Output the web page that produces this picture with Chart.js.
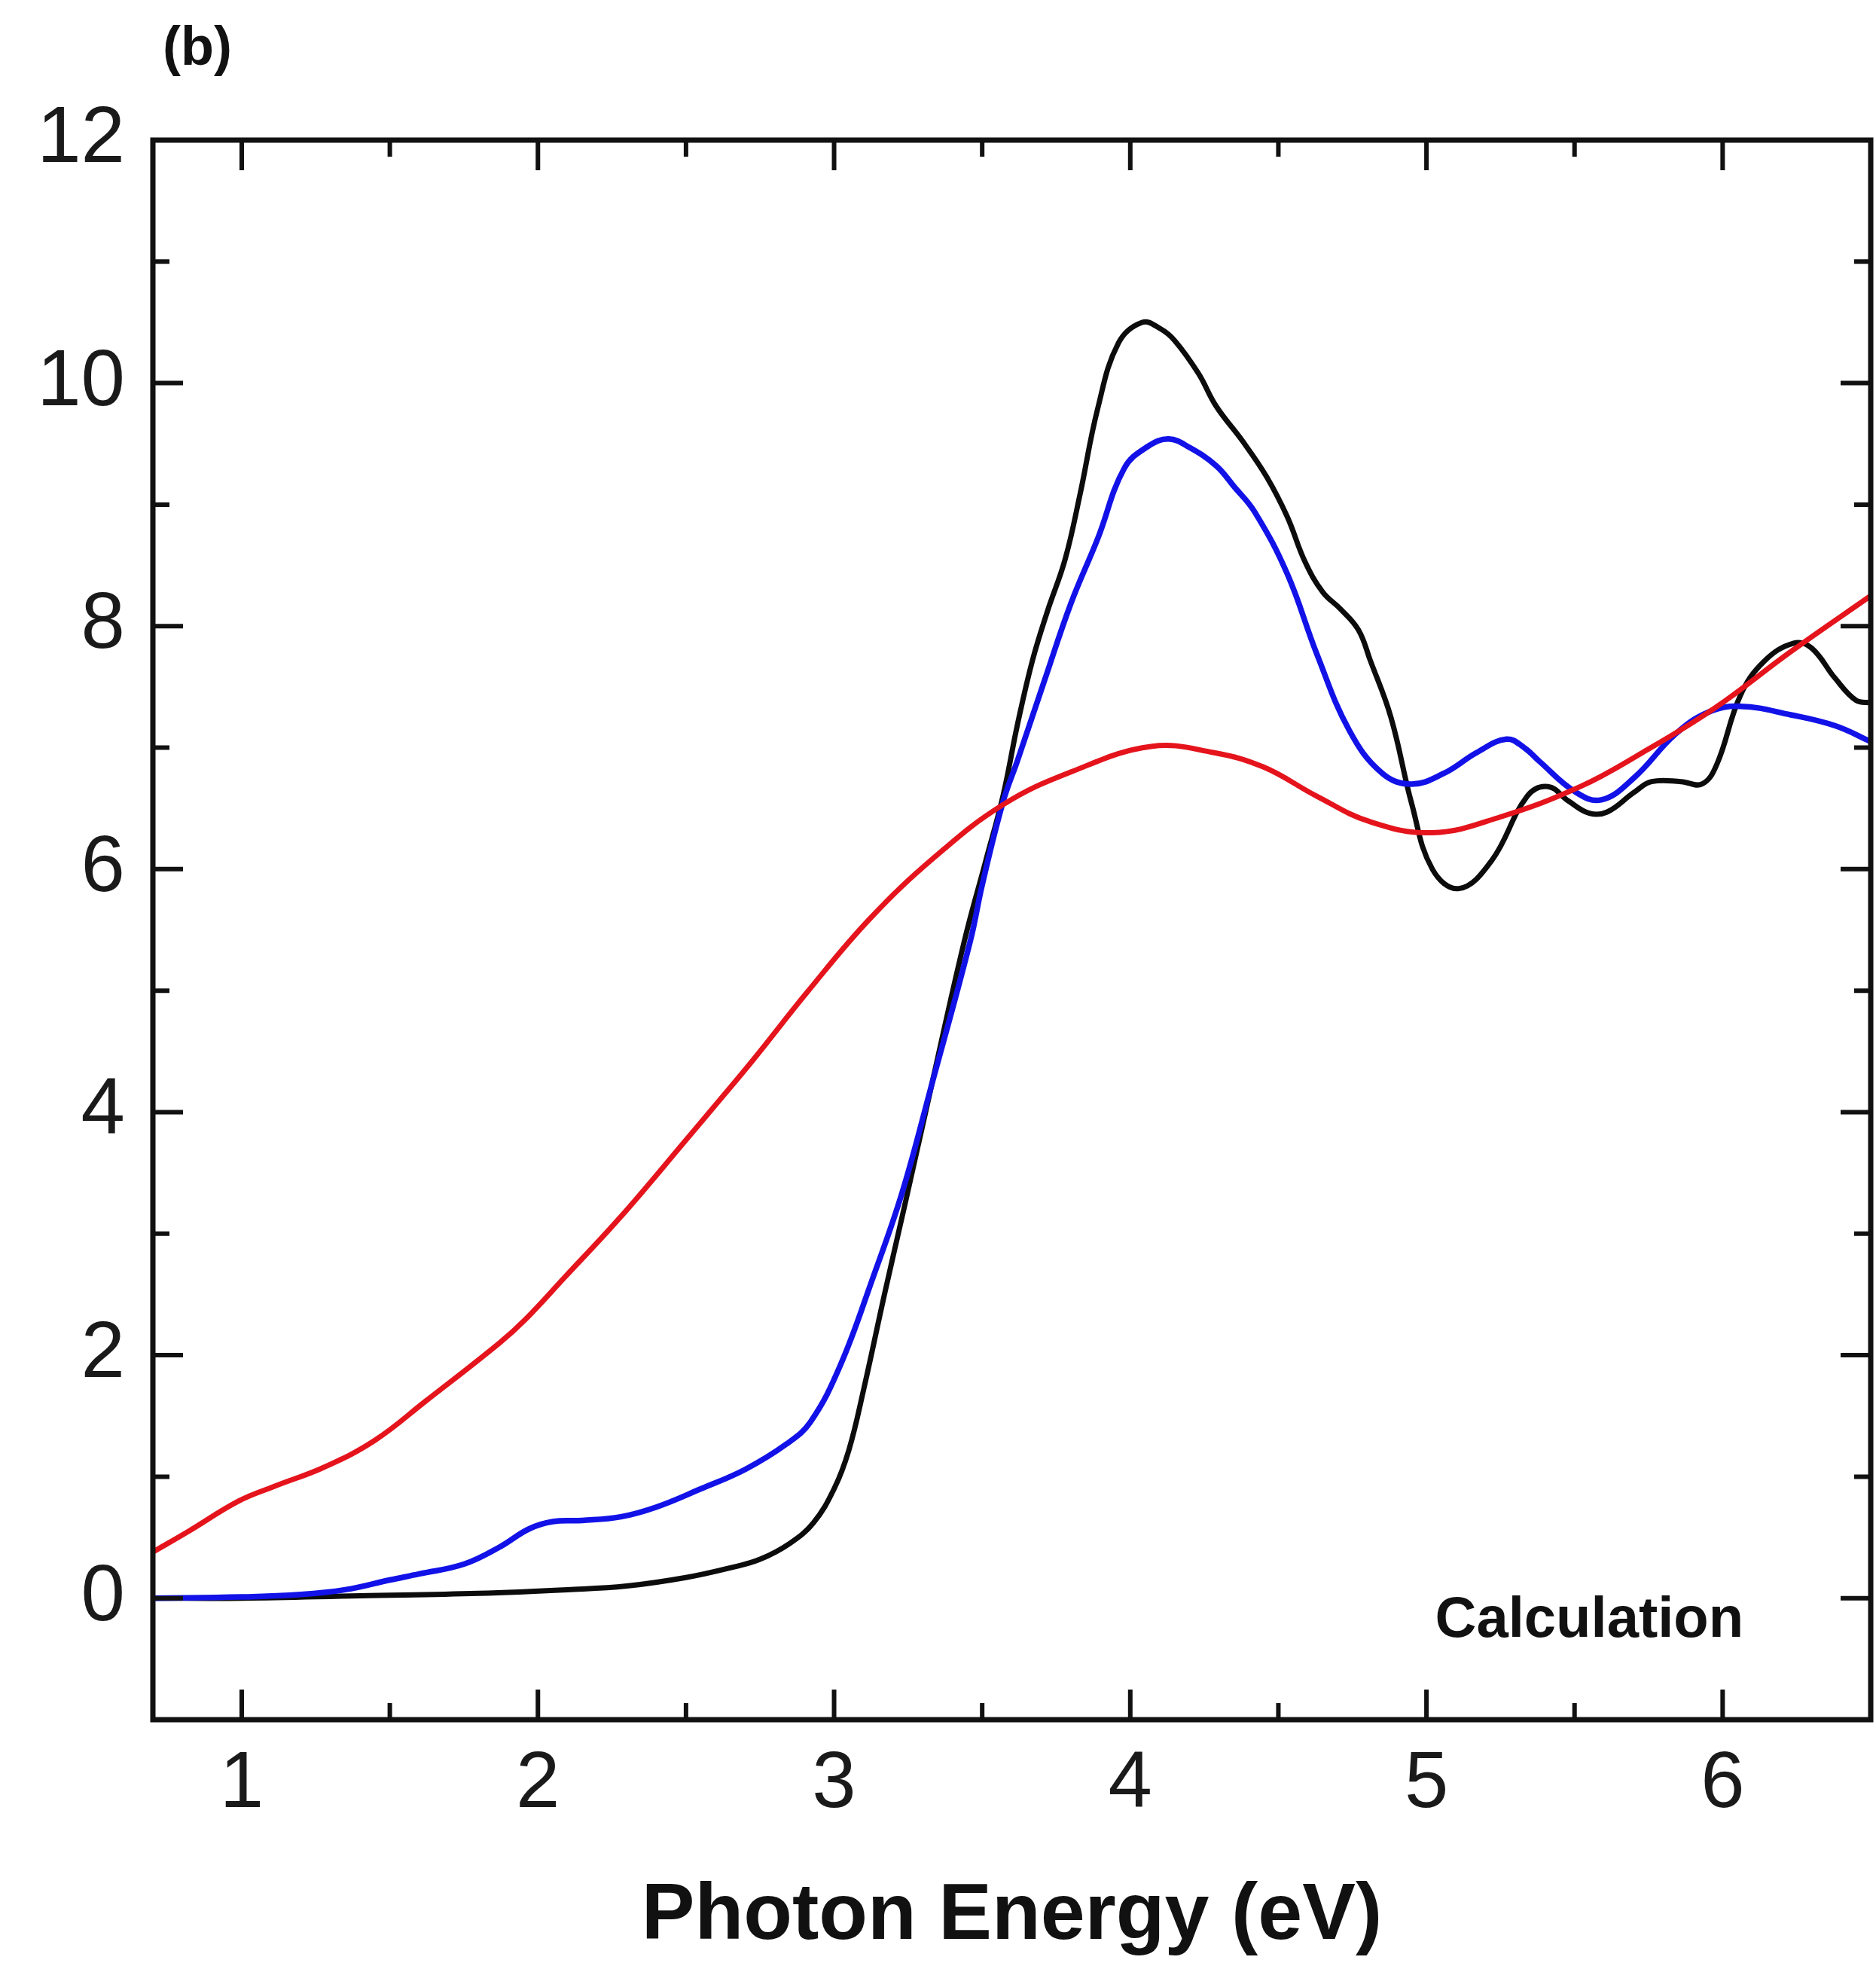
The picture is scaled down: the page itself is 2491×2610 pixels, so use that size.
<!DOCTYPE html>
<html>
<head>
<meta charset="utf-8">
<script src="https://cdn.jsdelivr.net/npm/chart.js@4.4.1/dist/chart.umd.min.js"></script>
<style>
  html, body { margin: 0; padding: 0; background: #fff; }
  #wrap { width: 2491px; height: 2610px; }
</style>
</head>
<body>
<div id="wrap"><canvas id="chart" width="2491" height="2610"></canvas></div>
<script>
/* ---------- data ---------- */
const blackX = [0.7, 1.0, 1.4, 1.8, 2.1, 2.3, 2.5, 2.65, 2.75, 2.85, 2.93, 3.0, 3.05, 3.1, 3.17, 3.24, 3.33, 3.44, 3.51, 3.57, 3.62, 3.67, 3.72, 3.78, 3.83, 3.89, 3.96, 4.04, 4.1, 4.15, 4.23, 4.29, 4.38, 4.46, 4.53, 4.59, 4.65, 4.71, 4.77, 4.81, 4.88, 4.95, 5.02, 5.11, 5.22, 5.34, 5.41, 5.48, 5.55, 5.61, 5.7, 5.76, 5.86, 5.93, 5.98, 6.06, 6.14, 6.24, 6.3, 6.38, 6.45, 6.5];
const blackY = [0, 0, 0.02, 0.04, 0.07, 0.1, 0.17, 0.25, 0.32, 0.45, 0.62, 0.9, 1.22, 1.72, 2.5, 3.25, 4.23, 5.41, 6.05, 6.6, 7.2, 7.72, 8.12, 8.55, 9.08, 9.79, 10.33, 10.5, 10.45, 10.35, 10.08, 9.81, 9.52, 9.23, 8.9, 8.53, 8.28, 8.14, 7.97, 7.72, 7.25, 6.54, 6.0, 5.84, 6.07, 6.6, 6.68, 6.56, 6.46, 6.47, 6.63, 6.72, 6.72, 6.7, 6.86, 7.43, 7.71, 7.86, 7.82, 7.57, 7.39, 7.37];

const blueX = [0.7, 1.0, 1.2, 1.35, 1.5, 1.6, 1.75, 1.87, 1.97, 2.05, 2.15, 2.28, 2.4, 2.55, 2.7, 2.84, 2.92, 3.02, 3.13, 3.23, 3.33, 3.46, 3.5, 3.57, 3.62, 3.71, 3.8, 3.89, 3.98, 4.06, 4.13, 4.2, 4.29, 4.35, 4.42, 4.53, 4.63, 4.74, 4.85, 4.95, 5.06, 5.17, 5.27, 5.33, 5.38, 5.5, 5.59, 5.7, 5.84, 5.95, 6.06, 6.23, 6.38, 6.5];
const blueY = [0, 0.01, 0.03, 0.07, 0.15, 0.2, 0.28, 0.42, 0.57, 0.63, 0.64, 0.67, 0.75, 0.9, 1.06, 1.27, 1.45, 1.91, 2.63, 3.34, 4.23, 5.41, 5.87, 6.55, 6.9, 7.55, 8.19, 8.72, 9.3, 9.48, 9.54, 9.47, 9.32, 9.15, 8.94, 8.43, 7.77, 7.14, 6.79, 6.7, 6.79, 6.96, 7.07, 7.0, 6.89, 6.64, 6.57, 6.75, 7.11, 7.29, 7.34, 7.27, 7.18, 7.05];

const redX = [0.7, 0.82, 0.99, 1.11, 1.28, 1.45, 1.62, 1.87, 1.96, 2.09, 2.28, 2.51, 2.6, 2.73, 2.91, 3.12, 3.34, 3.57, 3.8, 4.07, 4.28, 4.45, 4.63, 4.81, 5.02, 5.25, 5.52, 5.73, 5.97, 6.23, 6.5];
const redY = [0.38, 0.55, 0.8, 0.92, 1.08, 1.3, 1.62, 2.1, 2.3, 2.64, 3.14, 3.8, 4.06, 4.44, 4.99, 5.59, 6.1, 6.53, 6.8, 7.01, 6.96, 6.84, 6.6, 6.39, 6.3, 6.43, 6.68, 6.96, 7.32, 7.79, 8.25];

const xTickLabels = [1, 2, 3, 4, 5, 6];
const yTickLabels = [0, 2, 4, 6, 8, 10, 12];

const FONT = "'Liberation Sans', Arial, Helvetica, sans-serif";

function pairs(xs, ys) {
  return xs.map((x, i) => ({ x: x, y: ys[i] }));
}

function line(label, xs, ys, color, width) {
  return {
    label: label,
    data: pairs(xs, ys),
    borderColor: color,
    borderWidth: width,
    pointRadius: 0,
    fill: false,
    tension: 0.4,
    borderJoinStyle: "round",
    borderCapStyle: "round"
  };
}

/* ---------- frame, inward ticks and captions ---------- */
const frameTicks = {
  id: "frameTicks",
  afterDraw(chart) {
    const { ctx, chartArea: a, scales: { x, y } } = chart;
    ctx.save();
    ctx.strokeStyle = "#111";
    ctx.lineWidth = 6;
    ctx.lineCap = "butt";

    // x ticks, top and bottom
    for (let v = 1; v <= 6.001; v += 0.5) {
      const px = x.getPixelForValue(v);
      const len = Number.isInteger(v) ? 40 : 22;
      ctx.beginPath();
      ctx.moveTo(px, a.bottom); ctx.lineTo(px, a.bottom - len);
      ctx.moveTo(px, a.top); ctx.lineTo(px, a.top + len);
      ctx.stroke();
    }
    // y ticks, left and right
    for (let v = 0; v <= 11; v++) {
      const py = y.getPixelForValue(v);
      const len = v % 2 === 0 ? 40 : 22;
      ctx.beginPath();
      ctx.moveTo(a.left, py); ctx.lineTo(a.left + len, py);
      ctx.moveTo(a.right, py); ctx.lineTo(a.right - len, py);
      ctx.stroke();
    }

    ctx.lineWidth = 7;
    ctx.lineJoin = "miter";
    ctx.strokeRect(a.left, a.top, a.right - a.left, a.bottom - a.top);

    // captions
    ctx.fillStyle = "#111";
    ctx.font = "bold 76px " + FONT;
    ctx.textAlign = "center";
    ctx.textBaseline = "middle";
    ctx.fillText("Calculation", x.getPixelForValue(5.55), y.getPixelForValue(-0.19));

    ctx.textAlign = "left";
    ctx.font = "bold 72px " + FONT;
    ctx.fillText("(b)", 216, 66);
    ctx.restore();
  }
};

new Chart(document.getElementById("chart"), {
  type: "line",
  data: {
    datasets: [
      line("red", redX, redY, "#e5141c", 7),
      line("blue", blueX, blueY, "#1212e8", 7.5),
      line("black", blackX, blackY, "#0c0c0c", 7)
    ]
  },
  options: {
    responsive: false,
    animation: false,
    devicePixelRatio: 1,
    layout: { padding: { top: 186, right: 7, left: 0, bottom: 0 } },
    plugins: { legend: { display: false }, tooltip: { enabled: false } },
    scales: {
      x: {
        type: "linear",
        min: 0.7,
        max: 6.5,
        grid: { display: false, drawTicks: false },
        border: { display: false },
        afterBuildTicks: s => { s.ticks = xTickLabels.map(v => ({ value: v })); },
        afterFit: s => { s.height = 327; },
        ticks: {
          padding: 24,
          color: "#1a1a1a",
          font: { family: FONT, size: 105 },
          maxRotation: 0,
          autoSkip: false
        },
        title: {
          display: true,
          text: "Photon Energy (eV)",
          color: "#111",
          font: { family: FONT, size: 106, weight: "bold" },
          padding: { top: 0, bottom: 2 }
        }
      },
      y: {
        min: -1,
        max: 12,
        grid: { display: false, drawTicks: false },
        border: { display: false },
        afterBuildTicks: s => { s.ticks = yTickLabels.map(v => ({ value: v })); },
        afterFit: s => { s.width = 203; },
        ticks: {
          padding: 37,
          color: "#1a1a1a",
          font: { family: FONT, size: 105 },
          autoSkip: false
        }
      }
    }
  },
  plugins: [frameTicks]
});
</script>
</body>
</html>
